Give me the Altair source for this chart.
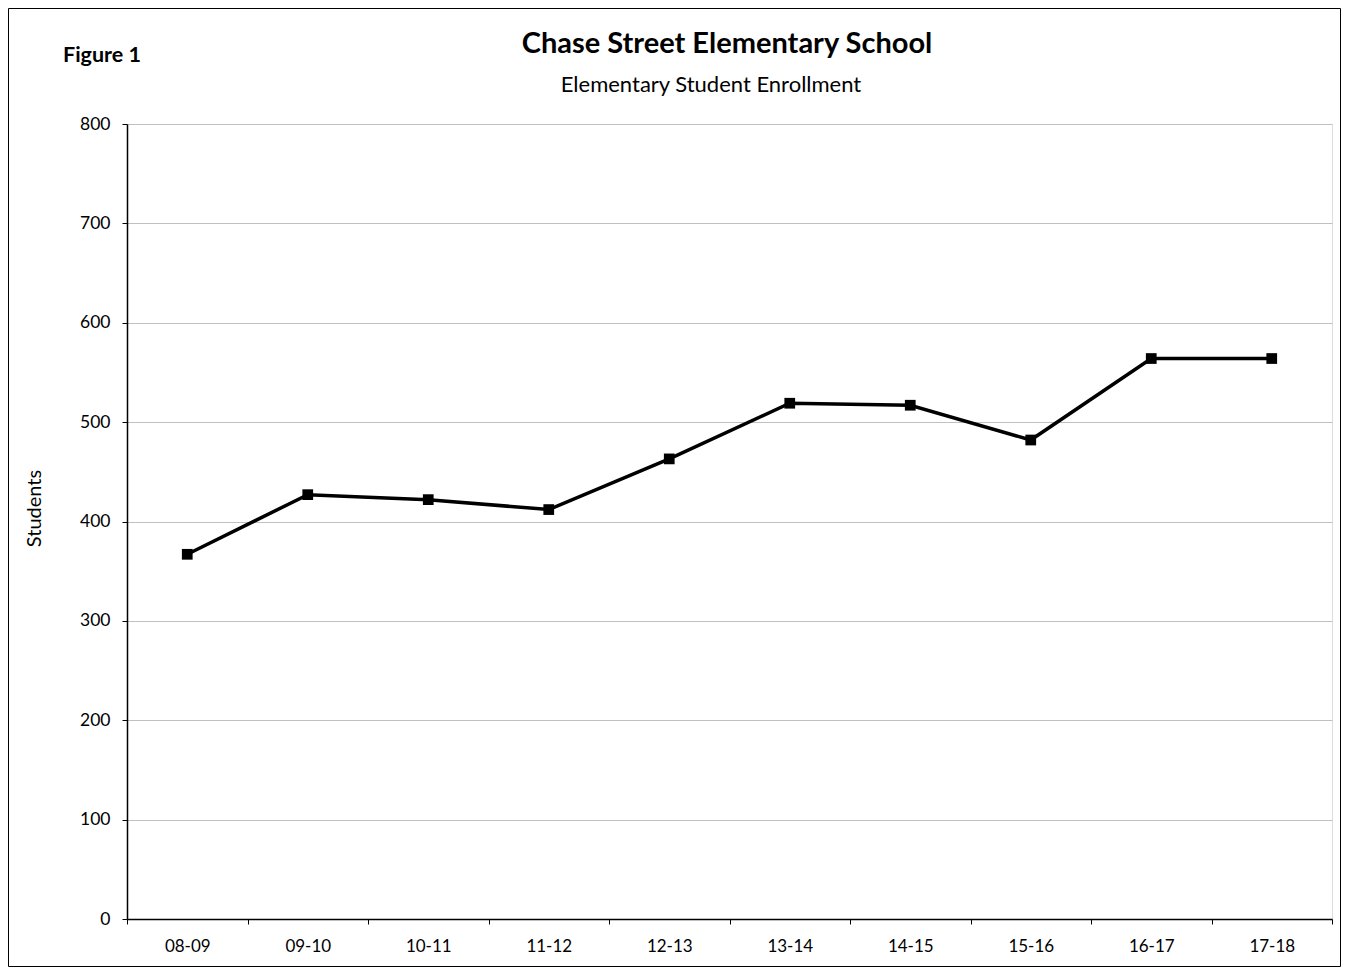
import altair as alt
import pandas as pd

years = ["08-09", "09-10", "10-11", "11-12", "12-13", "13-14", "14-15", "15-16", "16-17", "17-18"]
students = [367, 427, 422, 412, 463, 519, 517, 482, 564, 564]
y_ticks = [0, 100, 200, 300, 400, 500, 600, 700, 800]

title_text = "Chase Street Elementary School"
subtitle_text = "Elementary Student Enrollment"
figure_text = "Figure 1"

df = pd.DataFrame({"Year": years, "Students": students})
one = pd.DataFrame({"a": [0]})

W, H = 1205, 795
FONT = "Lato"

x = alt.X(
    "Year:N",
    sort=years,
    bandPosition=0.5,
    scale=alt.Scale(type="band", paddingInner=0, paddingOuter=0),
    axis=alt.Axis(
        title=None, tickBand="extent", labelAngle=0, domainColor="black",
        tickColor="black", tickSize=5, labelPadding=14, labelFontSize=17,
        labelColor="black", labelFont=FONT, grid=False, domainWidth=1.5,
    ),
)
y = alt.Y(
    "Students:Q",
    scale=alt.Scale(domain=[0, 800]),
    axis=alt.Axis(
        values=y_ticks, title="Students", titleFont=FONT, titleFontSize=20,
        titleFontWeight="normal", titleColor="black", titleAngle=-90,
        titleX=-93, titleY=384, titleAlign="center", titleBaseline="middle",
        domainColor="black", domainWidth=1.5, tickColor="black", tickSize=5,
        labelPadding=12, labelFontSize=17.5, labelColor="black", labelFont=FONT,
        gridColor="#c0c0c0", gridWidth=1,
    ),
)

line = alt.Chart(df).mark_line(color="black", strokeWidth=3.5).encode(x=x, y=y)
pts = alt.Chart(df).mark_point(shape="square", filled=True, size=115, color="black", opacity=1).encode(x=x, y=y)

title = alt.Chart(one).mark_text(
    align="center", baseline="alphabetic", fontSize=29, fontWeight="bold", font=FONT, color="black"
).encode(x=alt.value(600), y=alt.value(-71), text=alt.value(title_text))
subtitle = alt.Chart(one).mark_text(
    align="center", baseline="alphabetic", fontSize=22, font=FONT, color="black"
).encode(x=alt.value(584), y=alt.value(-32), text=alt.value(subtitle_text))
figure = alt.Chart(one).mark_text(
    align="left", baseline="alphabetic", fontSize=21.5, fontWeight="bold", font=FONT, color="black"
).encode(x=alt.value(-64), y=alt.value(-62), text=alt.value(figure_text))
frame = alt.Chart(one).mark_rect(fill="transparent", stroke="black", strokeWidth=1).encode(
    x=alt.value(-118.5), x2=alt.value(W + 8.5), y=alt.value(-115.5), y2=alt.value(H + 47.5)
)

chart = alt.layer(frame, line, pts, title, subtitle, figure).properties(
    width=W, height=H,
    autosize=alt.AutoSizeParams(type="none"),
    padding={"left": 119, "top": 116, "right": 9, "bottom": 48},
).configure_view(stroke="#999999", strokeWidth=1.5).configure(background="white")

chart.save("out.html", embed_options={"renderer": "svg", "actions": False})
